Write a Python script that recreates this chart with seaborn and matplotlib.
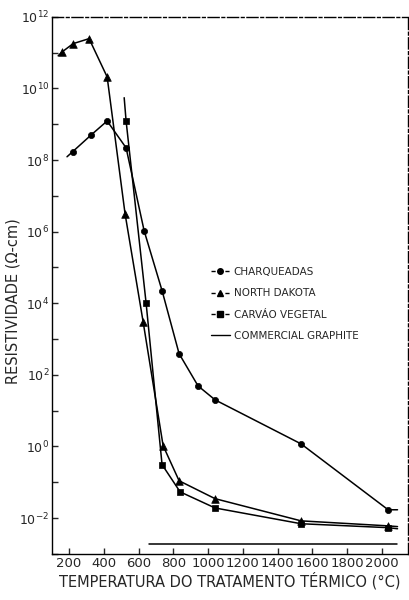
import numpy as np
import pandas as pd
import matplotlib
matplotlib.use("Agg")
import matplotlib.pyplot as plt
import seaborn as sns
from matplotlib.lines import Line2D

# ---- data (temperature in °C, log10 of resistivity in ohm-cm) ----
charq_t = [220, 327, 419, 528, 632, 735, 833, 942, 1040, 1535, 2036]
charq_log = [8.23, 8.70, 9.09, 8.34, 6.02, 4.35, 2.59, 1.69, 1.30, 0.07, -1.77]
charq_line_t = [188] + charq_t + [2090]
charq_line_log = [8.09] + charq_log + [-1.77]

nd_t = [160, 223, 315, 419, 522, 626, 741, 833, 1040, 1535, 2036]
nd_log = [11.02, 11.25, 11.39, 10.32, 6.50, 3.48, 0.02, -0.96, -1.46, -2.08, -2.22]
nd_line_t = [137] + nd_t + [2090]
nd_line_log = [10.91] + nd_log + [-2.24]

carv_t = [528, 643, 735, 839, 1040, 1535, 2036]
carv_log = [9.09, 4.01, -0.51, -1.27, -1.72, -2.16, -2.27]
carv_line_t = [517] + carv_t + [2090]
carv_line_log = [9.74] + carv_log + [-2.30]

graph_t = [660, 2088]
graph_log = [-2.72, -2.72]

x_ticks = [200, 400, 600, 800, 1000, 1200, 1400, 1600, 1800, 2000]
y_major = [12, 10, 8, 6, 4, 2, 0, -2]
y_minor = [11, 9, 7, 5, 3, 1, -1, -3]

sns.set_style("ticks")
plt.rcParams['font.family'] = ['DejaVu Sans']

fig = plt.figure(figsize=(4.1, 6.0), dpi=100)
ax = fig.add_axes([0.127, 0.077, 0.868, 0.895])

def pw(v):
    return [10.0 ** a for a in v]

series = [
    ("CHARQUEADAS", charq_line_t, charq_line_log, charq_t, charq_log, "o", 20),
    ("NORTH DAKOTA", nd_line_t, nd_line_log, nd_t, nd_log, "^", 30),
    ("CARVÁO VEGETAL", carv_line_t, carv_line_log, carv_t, carv_log, "s", 22),
]
for name, lt, ll, mt, ml, mk, ms in series:
    dl = pd.DataFrame({"t": lt, "r": pw(ll)})
    sns.lineplot(data=dl, x="t", y="r", sort=False, color="black", lw=1.1, ax=ax,
                 estimator=None)
    dm = pd.DataFrame({"t": mt, "r": pw(ml)})
    sns.scatterplot(data=dm, x="t", y="r", marker=mk, s=ms, color="black",
                    edgecolor="black", linewidth=0.5, ax=ax, zorder=5)

dg = pd.DataFrame({"t": graph_t, "r": pw(graph_log)})
sns.lineplot(data=dg, x="t", y="r", sort=False, color="black", lw=1.1, ax=ax, estimator=None)

ax.set_yscale("log")
ax.set_xlim(102, 2150)
ax.set_ylim(1e-3, 1e12)

ax.set_xticks(x_ticks)
ax.set_xticklabels([str(v) for v in x_ticks], fontsize=9.5)
ax.set_yticks([10.0 ** v for v in y_major])
ax.set_yticklabels([r"$10^{%d}$" % v for v in y_major], fontsize=9)
ax.set_yticks([10.0 ** v for v in y_minor], minor=True)
ax.yaxis.set_minor_formatter(matplotlib.ticker.NullFormatter())
ax.tick_params(axis="both", which="both", direction="in", length=4, width=1, pad=2)

for sp in ax.spines.values():
    sp.set_visible(True)
    sp.set_color("black")
    sp.set_linewidth(1.0)
ax.spines["top"].set_linestyle((0, (8, 2, 2, 2)))
ax.spines["right"].set_linestyle((0, (8, 2, 2, 2)))

ax.set_xlabel("TEMPERATURA DO TRATAMENTO TÉRMICO (°C)", fontsize=10.5)
ax.xaxis.set_label_coords(0.5, -0.033)
ax.set_ylabel("RESISTIVIDADE (Ω-cm)", fontsize=10.5)
ax.yaxis.set_label_coords(-0.09, 0.47)

handles = [
    Line2D([0], [0], color="black", lw=1, ls=(0, (3, 2)), marker="o", ms=4),
    Line2D([0], [0], color="black", lw=1, ls=(0, (3, 2)), marker="^", ms=5),
    Line2D([0], [0], color="black", lw=1, ls=(0, (3, 2)), marker="s", ms=4),
    Line2D([0], [0], color="black", lw=1),
]
labels = ["CHARQUEADAS", "NORTH DAKOTA", "CARVÁO VEGETAL", "COMMERCIAL GRAPHITE"]
ax.legend(handles, labels, loc="upper left", bbox_to_anchor=(0.42, 0.552), frameon=False,
          fontsize=7.5, handlelength=1.8, handletextpad=0.4, labelspacing=1.1)

fig.savefig("out.png", dpi=100)
